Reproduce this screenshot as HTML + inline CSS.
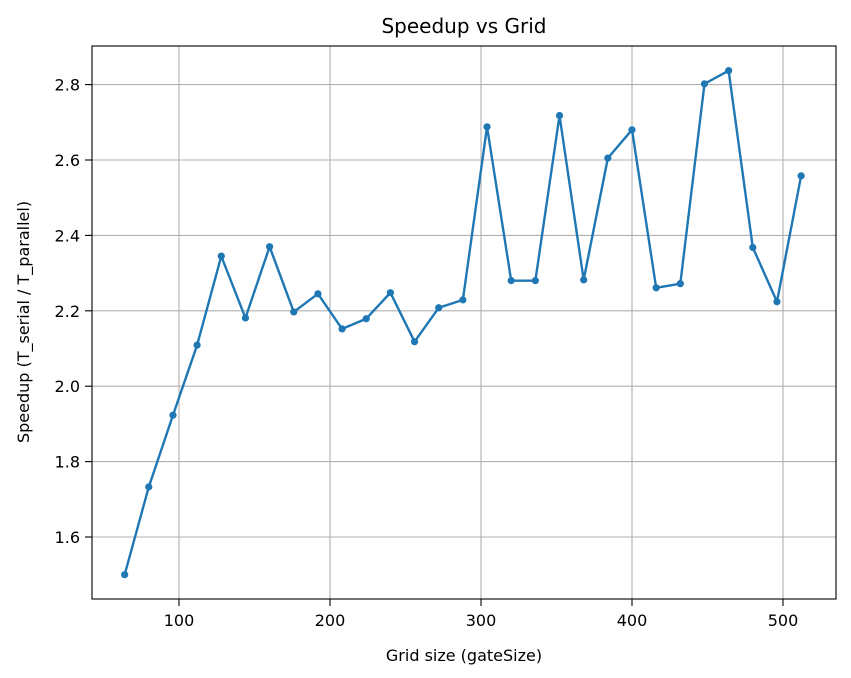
<!DOCTYPE html>
<html><head><meta charset="utf-8">
<style>
html,body{margin:0;padding:0;background:#fff;}
svg{display:block;font-family:"DejaVu Sans","Liberation Sans",sans-serif;}
</style></head>
<body>
<svg id="chart" width="851" height="678">
<rect width="851" height="678" fill="#fff"/>
<g id="grid"></g>
<g id="series"></g>
<rect x="92" y="46" width="744" height="553" fill="none" stroke="#000" stroke-width="1.1"/>
<g id="axes"></g>
<text x="464" y="33" text-anchor="middle" font-size="20">Speedup vs Grid</text>
<text x="464" y="661" text-anchor="middle" font-size="16">Grid size (gateSize)</text>
<text transform="translate(29,322) rotate(-90)" text-anchor="middle" font-size="16">Speedup (T_serial / T_parallel)</text>
</svg>
<script>
const gridSizes = [64,80,96,112,128,144,160,176,192,208,224,240,256,272,288,304,320,336,352,368,384,400,416,432,448,464,480,496,512];
const speedups = [1.50,1.733,1.923,2.109,2.345,2.181,2.37,2.197,2.245,2.152,2.179,2.248,2.118,2.208,2.229,2.688,2.28,2.28,2.718,2.282,2.605,2.68,2.261,2.272,2.802,2.837,2.368,2.224,2.558];
const xTicks = [100,200,300,400,500];
const yTicks = [1.6,1.8,2.0,2.2,2.4,2.6,2.8];

const NS = "http://www.w3.org/2000/svg";
function xs(v){ return 179 + (v-100)*1.51; }
function ys(v){ return 537 - (v-1.6)*377; }
function mk(tag, attrs, parent){
  const e = document.createElementNS(NS, tag);
  for (const k in attrs) e.setAttribute(k, attrs[k]);
  parent.appendChild(e); return e;
}
const grid = document.getElementById('grid');
const axes = document.getElementById('axes');
const series = document.getElementById('series');

xTicks.forEach(t=>{
  const x = xs(t);
  const g = mk('line',{x1:x,x2:x,y1:46,y2:599,stroke:'#b0b0b0','stroke-width':1.1},grid);
  
  
  const tk = mk('line',{x1:x,x2:x,y1:599,y2:606,stroke:'#000','stroke-width':1.1},axes);
  
  
  const lb = mk('text',{x:x,y:626,'text-anchor':'middle','font-size':16},axes);
  lb.textContent = t;
  
  
});
yTicks.forEach(t=>{
  const y = ys(t);
  const g = mk('line',{x1:92,x2:836,y1:y,y2:y,stroke:'#b0b0b0','stroke-width':1.1},grid);
  
  
  const tk = mk('line',{x1:85,x2:92,y1:y,y2:y,stroke:'#000','stroke-width':1.1},axes);
  
  
  const lb = mk('text',{x:80,y:y+6,'text-anchor':'end','font-size':16},axes);
  lb.textContent = t.toFixed(1);
  
  
});
const pts = gridSizes.map((g,i)=>xs(g)+','+ys(speedups[i])).join(' ');
const line = mk('polyline',{points:pts,fill:'none',stroke:'#1f77b4','stroke-width':2.4,'stroke-linejoin':'round'},series);


gridSizes.forEach((g,i)=>{
  const c = mk('circle',{cx:xs(g),cy:ys(speedups[i]),r:3.6,fill:'#1f77b4'},series);
  
  
});
</script>
</body></html>
